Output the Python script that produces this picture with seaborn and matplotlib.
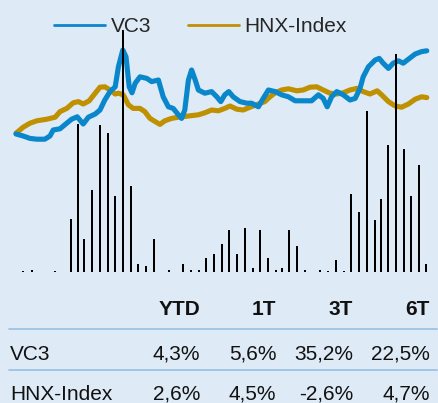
import matplotlib
matplotlib.use("Agg")
import matplotlib.pyplot as plt
from matplotlib.lines import Line2D
import seaborn as sns
import pandas as pd

# ---- data ----
vc3_x = [0, 1.8, 3.5, 5.2, 7.2, 8.5, 9.3, 11, 12.2, 13.9, 15.3, 16.8, 18.1, 19.8, 21, 22.2, 23.5, 24.8, 25.6, 26.7,
         27.5, 28.3, 29, 29.8, 31, 32.7, 33.9, 35.6, 36.8, 38.1, 39.3, 40.6, 41.4, 42.2, 43.1, 43.9, 44.8, 45.6, 47.2, 48.9,
         50.2, 51.2, 52.2, 53.2, 54.3, 56, 57.7, 58.9, 60.6, 61.8, 63.1, 64.8, 66.4, 68.1, 69.8, 72.2, 73.9, 75.6, 76.8, 77.8,
         78.9, 80.2, 81.8, 83.5, 84.8, 86, 86.8, 88.1, 89.8, 90.8, 91.8, 93.1, 94.3, 95.6, 96.8, 98.1, 99.8, 101.4, 102.7]
vc3_y = [100, 99.5, 98.9, 98.7, 98.7, 99.5, 101, 101.3, 102.3, 103.7, 104.3, 102.5, 104.2, 105, 106, 108.5, 110.6, 111.8, 116.8, 121,
         119.3, 111.8, 110.3, 112.7, 114.3, 113.9, 113.1, 113.5, 109.3, 106.8, 106.4, 104.8, 103.9, 106, 113.5, 116, 113.5, 111, 110.2, 110.6,
         109.3, 108.1, 109.8, 110.6, 109.3, 108.1, 107.7, 107.7, 106.8, 108.9, 111, 110.6, 109.8, 109.3, 108.3, 108.3, 108.3, 109.8, 108.9, 106.8,
         109.3, 110.6, 109.8, 108.5, 108.9, 111.4, 114.3, 116.8, 118.5, 118.9, 117.7, 116.4, 117.7, 118.3, 117.7, 118.7, 120, 120.6, 120.8]

hnx_x = [0, 1.8, 3.5, 5.2, 7.7, 9.8, 11, 12.7, 14.3, 15.6, 16.8, 18.3, 19.8, 21, 22.2, 23.5, 24.8, 25.6, 26.8, 28.1,
         29.3, 31, 32.2, 33.5, 34.8, 36, 37.2, 38.9, 40.6, 43.1, 45.6, 47.2, 48.9, 50.6, 52.2, 53.5, 55.2, 56.8, 58.5, 60.6,
         62.2, 63.5, 64.8, 66.4, 68.1, 70.2, 71.8, 73.5, 75.2, 76.8, 78.5, 80.2, 81.8, 83.5, 85.2, 86.8, 88.5, 90.3, 91.4, 93.1,
         94.8, 96.4, 98.1, 99.8, 101.4, 102.7]
hnx_y = [100.2, 101.7, 102.7, 103.3, 103.7, 104.2, 105.6, 106.4, 107.8, 108.1, 107.5, 108.3, 110.2, 111.7, 111.8, 111, 110, 110.2, 109.8, 107.3,
         106.4, 106.4, 105.6, 103.9, 103.1, 102.4, 103.3, 103.9, 104.2, 104.5, 104.8, 105.3, 106, 105.8, 106.4, 107, 106.2, 106, 106.7, 107.5,
         108.1, 109.3, 110.3, 111, 111.3, 110.8, 111, 111.7, 111.8, 111, 110.2, 110, 110.3, 111, 111.4, 110.6, 110, 110.8, 109.8, 108.1,
         107, 106.7, 107.5, 108.7, 109.3, 109.1]

vol_x = [1.8, 4, 9.8, 13.7, 15.6, 17, 19, 21, 22.9, 24.8, 26.8, 28.7, 30.6, 32.6, 34.5, 38.3, 41.7, 43.7, 45.7, 47.6,
         49.5, 51.4, 53.3, 55.3, 57.3, 59.2, 61.1, 63, 64.9, 66.4, 68.3, 70.3, 72.3, 76.1, 78.1, 79.9, 81.9, 83.8, 85.8, 87.8,
         89.7, 91.2, 93.1, 95, 96.9, 98.8, 100.8, 102.6]
vol = [8, 20, 6, 534, 1484, 334, 817, 1467, 1390, 757, 2417, 857, 77, 60, 334, 17, 77, 17, 17, 137,
       177, 277, 417, 177, 437, 40, 417, 137, 24, 40, 417, 257, 24, 17, 6, 117, 6, 777, 597, 1610,
       517, 734, 1274, 2184, 1234, 757, 1074, 77]

series_names = ["VC3", "HNX-Index"]
periods = ["YTD", "1T", "3T", "6T"]
vc3_ret = ["4,3%", "5,6%", "35,2%", "22,5%"]
hnx_ret = ["2,6%", "4,5%", "-2,6%", "4,7%"]

# ---- style ----
BG = "#DEEAF6"
BLUE = "#0A87CB"
GOLD = "#BF9000"
SEP = "#9DC3E6"
sns.set_theme(style="white")
plt.rcParams["font.family"] = ["Liberation Sans", "DejaVu Sans"]

fig = plt.figure(figsize=(4.39, 4.03), dpi=100, facecolor=BG)
ax = fig.add_axes([0, 1 - 272 / 403, 1, 272 / 403])
ax.set_facecolor(BG)

df_v = pd.DataFrame({"x": vc3_x, "y": vc3_y})
df_h = pd.DataFrame({"x": hnx_x, "y": hnx_y})
sns.lineplot(data=df_h, x="x", y="y", ax=ax, color=GOLD, lw=3.7, sort=False,
             solid_capstyle="round", solid_joinstyle="round")
sns.lineplot(data=df_v, x="x", y="y", ax=ax, color=BLUE, lw=3.7, sort=False,
             solid_capstyle="round", solid_joinstyle="round")
ax.set_xlim(-4, 105.75)
ax.set_ylim(65.5, 133.5)

ax2 = ax.twinx()
ax2.bar(vol_x, vol, width=0.5, color="black", linewidth=0)
ax2.set_ylim(0, 2720)

for a in (ax, ax2):
    a.set_xlabel("")
    a.set_ylabel("")
    a.set_xticks([])
    a.set_yticks([])
    for s in a.spines.values():
        s.set_visible(False)

handles = [Line2D([], [], color=BLUE, lw=2), Line2D([], [], color=GOLD, lw=2)]
fig.legend(handles, series_names, loc="center", bbox_to_anchor=(0.457, 0.934), ncol=2,
           frameon=False, fontsize=15, handlelength=2.45, handletextpad=0.25,
           columnspacing=1.78, borderpad=0, borderaxespad=0)

# ---- table ----
W, H = 439, 403
right_edges = [200, 276.5, 353.3, 430]
for p, xr in zip(periods, right_edges):
    fig.text(xr / W, 1 - 315 / H, p, ha="right", va="baseline", fontsize=15,
             fontweight="bold", color="#111111")
for yy in (329.3, 370):
    fig.add_artist(Line2D([9 / W, 437 / W], [1 - yy / H, 1 - yy / H], color=SEP, lw=1.3))
for name, vals, yb in ((series_names[0], vc3_ret, 360), (series_names[1], hnx_ret, 400)):
    fig.text(10 / W, 1 - yb / H, name, ha="left", va="baseline", fontsize=15, color="#111111")
    for v, xr in zip(vals, right_edges):
        fig.text(xr / W, 1 - yb / H, v, ha="right", va="baseline", fontsize=15, color="#111111")

fig.savefig("out.png", dpi=100, facecolor=BG)
